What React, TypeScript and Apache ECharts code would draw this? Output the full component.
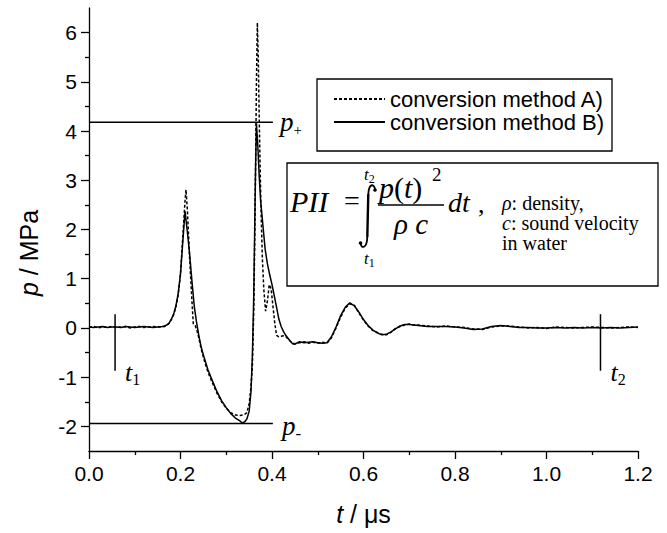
import React, { useEffect, useRef } from "react";
import * as echarts from "echarts";

// ---- data ----
const T_A = [0, 0.01, 0.02, 0.03, 0.04, 0.05, 0.06, 0.07, 0.08, 0.09, 0.1, 0.11, 0.12, 0.13, 0.14, 0.15, 0.16, 0.165,
  0.17, 0.175, 0.18, 0.185, 0.19, 0.195, 0.2, 0.205, 0.21, 0.212, 0.215, 0.22, 0.225, 0.228, 0.232, 0.236, 0.24, 0.245, 0.25,
  0.26, 0.27, 0.28, 0.29, 0.3, 0.31, 0.32, 0.33, 0.34, 0.345, 0.35, 0.354, 0.357, 0.36, 0.362, 0.364, 0.366, 0.368, 0.37,
  0.372, 0.374, 0.376, 0.379, 0.382, 0.386, 0.39, 0.394, 0.398, 0.402, 0.406, 0.41, 0.415, 0.42, 0.425, 0.43, 0.435, 0.44,
  0.445, 0.45, 0.46, 0.47, 0.48, 0.49, 0.5, 0.51, 0.52, 0.53, 0.54, 0.55, 0.56, 0.57, 0.58, 0.59, 0.6, 0.61, 0.62, 0.63,
  0.64, 0.65, 0.66, 0.67, 0.68, 0.69, 0.7, 0.71, 0.72, 0.74, 0.76, 0.78, 0.8, 0.82, 0.84, 0.86, 0.88, 0.9, 0.92, 0.94,
  0.96, 0.98, 1.0, 1.02, 1.04, 1.06, 1.08, 1.1, 1.12, 1.14, 1.16, 1.18, 1.2];
const P_A = [0.01, 0.03, 0.0, 0.02, 0.01, 0.03, 0.01, 0.02, 0.03, 0.0, 0.02, 0.03, 0.01, 0.02, 0.03, 0.02, 0.02, 0.03,
  0.05, 0.09, 0.17, 0.27, 0.42, 0.68, 1.1, 1.85, 2.6, 2.81, 2.4, 1.4, 0.55, 0.08, 0.05, -0.05, -0.2, -0.42, -0.6,
  -0.9, -1.12, -1.33, -1.5, -1.63, -1.72, -1.77, -1.78, -1.76, -1.72, -1.55, -1.2, -0.8, 0.3, 1.6, 3.2, 5.0, 6.2, 5.5,
  4.3, 3.3, 2.4, 1.4, 0.8, 0.34, 0.55, 0.88, 0.8, 0.45, 0.1, -0.15, -0.18, -0.17, -0.16, -0.18, -0.22, -0.27,
  -0.31, -0.32, -0.3, -0.28, -0.31, -0.29, -0.31, -0.29, -0.31, -0.2, 0.0, 0.22, 0.4, 0.49, 0.46, 0.3, 0.16, 0.04, -0.05, -0.09,
  -0.13, -0.14, -0.09, -0.01, 0.03, 0.06, 0.08, 0.06, 0.06, 0.04, 0.02, 0.04, 0.02, 0.01, -0.02, -0.03, 0.02, 0.04, 0.04, 0.02,
  0.0, 0.01, -0.01, 0.02, 0.01, 0.0, 0.01, 0.02, 0.01, 0.0, 0.01, 0.02, 0.01];

const T_B = [0, 0.01, 0.02, 0.03, 0.04, 0.05, 0.06, 0.07, 0.08, 0.09, 0.1, 0.11, 0.12, 0.13, 0.14, 0.15, 0.16, 0.165,
  0.17, 0.175, 0.18, 0.185, 0.19, 0.195, 0.2, 0.205, 0.21, 0.215, 0.22, 0.225, 0.23, 0.235, 0.24, 0.245, 0.25,
  0.26, 0.27, 0.28, 0.29, 0.3, 0.31, 0.32, 0.33, 0.335, 0.34, 0.345, 0.35, 0.354, 0.357, 0.36, 0.362, 0.364, 0.366,
  0.369, 0.372, 0.375, 0.378, 0.381, 0.385, 0.39, 0.395, 0.4, 0.405, 0.41, 0.415, 0.42, 0.425, 0.43, 0.435, 0.44, 0.445, 0.45,
  0.46, 0.47, 0.48, 0.49, 0.5, 0.51, 0.52, 0.53, 0.54, 0.55, 0.56, 0.57, 0.58, 0.59, 0.6, 0.61, 0.62, 0.63,
  0.64, 0.65, 0.66, 0.67, 0.68, 0.69, 0.7, 0.71, 0.72, 0.74, 0.76, 0.78, 0.8, 0.82, 0.84, 0.86, 0.88, 0.9, 0.92, 0.94,
  0.96, 0.98, 1.0, 1.02, 1.04, 1.06, 1.08, 1.1, 1.12, 1.14, 1.16, 1.18, 1.2];
const P_B = [0.02, 0.01, 0.02, 0.03, 0.01, 0.02, 0.02, 0.01, 0.03, 0.02, 0.01, 0.02, 0.03, 0.02, 0.01, 0.02, 0.03, 0.04,
  0.06, 0.1, 0.18, 0.28, 0.45, 0.7, 1.1, 1.75, 2.37, 1.95, 1.5, 0.95, 0.45, 0.12, -0.15, -0.38, -0.55,
  -0.85, -1.08, -1.3, -1.48, -1.62, -1.74, -1.83, -1.89, -1.93, -1.91, -1.85, -1.7, -1.3, -0.6, 0.6, 1.9, 3.2, 4.16,
  3.7, 3.1, 2.6, 2.3, 2.0, 1.6, 1.3, 1.08, 0.88, 0.65, 0.42, 0.18, 0.03, -0.07, -0.15, -0.21, -0.27, -0.32, -0.33,
  -0.28, -0.3, -0.29, -0.28, -0.3, -0.31, -0.3, -0.18, 0.02, 0.25, 0.42, 0.51, 0.45, 0.32, 0.17, 0.05, -0.04, -0.1,
  -0.14, -0.13, -0.08, -0.02, 0.04, 0.07, 0.07, 0.06, 0.05, 0.03, 0.03, 0.03, 0.02, 0.0, -0.03, -0.02, 0.03, 0.05, 0.03, 0.01,
  0.01, 0.0, 0.0, 0.01, 0.0, 0.01, 0.0, 0.01, 0.0, 0.01, 0.0, 0.01, 0.02];

const LEGEND_NAMES = ["conversion method A)", "conversion method B)"];
const X_TICKS = [0, 0.2, 0.4, 0.6, 0.8, 1.0, 1.2];
const Y_TICKS = [-2, -1, 0, 1, 2, 3, 4, 5, 6];
const P_PLUS = 4.18;
const P_MINUS = -1.94;
const LEVEL_END = 0.402;
const T1 = 0.057;
const T2 = 1.118;
const MARK_TOP = 0.28;
const MARK_BOTTOM = -0.87;

const SANS = "'Liberation Sans', Arial, Helvetica, sans-serif";
const SERIF = "'Liberation Serif', 'Times New Roman', Times, serif";

const zip = (t: number[], p: number[]) =>
  t.map((x, i) => [x, p[i]]).filter((d) => d[1] !== undefined);

const black = "#000";

const subRich = (main: number, sub: number) => ({
  v: { fontFamily: SERIF, fontStyle: "italic", fontSize: main, lineHeight: main + 4, color: black },
  s: { fontFamily: SERIF, fontSize: sub, lineHeight: sub, color: black, verticalAlign: "bottom" },
});

const noteRich = { g: { fontFamily: SERIF, fontStyle: "italic", fontSize: 20, lineHeight: 18, color: black } };

function buildOption(): any {
  const axisLineStyle = { color: black, width: 1.3 };
  return {
    animation: false,
    backgroundColor: "#fff",
    grid: { left: 89, right: 29, top: 8, bottom: 82 },
    legend: {
      data: LEGEND_NAMES,
      orient: "vertical",
      left: 317,
      top: 79,
      itemWidth: 51,
      itemHeight: 14,
      itemGap: 1,
      padding: [9, 8, 18, 16],
      borderColor: black,
      borderWidth: 1.3,
      backgroundColor: "#fff",
      selectedMode: false,
      itemStyle: { opacity: 0 },
      textStyle: { fontFamily: SANS, fontSize: 22, lineHeight: 21, color: black },
    },
    xAxis: {
      type: "value",
      min: X_TICKS[0],
      max: X_TICKS[X_TICKS.length - 1],
      interval: 0.2,
      axisLine: { show: true, onZero: false, lineStyle: axisLineStyle },
      axisTick: { show: true, length: 8, lineStyle: axisLineStyle },
      minorTick: { show: true, splitNumber: 2, length: 4, lineStyle: axisLineStyle },
      axisLabel: {
        margin: 12,
        fontSize: 21,
        fontFamily: SANS,
        color: black,
        formatter: (v: number) => v.toFixed(1),
      },
      splitLine: { show: false },
      name: "{i|t} / μs",
      nameLocation: "middle",
      nameGap: 50,
      nameTextStyle: {
        fontFamily: SANS,
        fontSize: 25,
        color: black,
        rich: { i: { fontFamily: SANS, fontStyle: "italic", fontSize: 25, color: black } },
      },
    },
    yAxis: {
      type: "value",
      min: -2.5,
      max: 6.5,
      splitNumber: 9,
      axisLine: { show: true, onZero: false, lineStyle: axisLineStyle },
      axisTick: { show: true, length: 8, customValues: Y_TICKS, lineStyle: axisLineStyle },
      minorTick: { show: true, splitNumber: 2, length: 4, lineStyle: axisLineStyle },
      axisLabel: {
        customValues: Y_TICKS,
        margin: 12,
        fontSize: 21,
        fontFamily: SANS,
        color: black,
        formatter: (v: number) => String(Math.round(v)),
      },
      splitLine: { show: false },
    },
    series: [
      {
        name: LEGEND_NAMES[0],
        type: "line",
        data: zip(T_A, P_A),
        symbol: "none",
        lineStyle: { color: black, width: 1.5, type: [3, 2] },
        itemStyle: { color: black },
        z: 3,
      },
      {
        name: LEGEND_NAMES[1],
        type: "line",
        data: zip(T_B, P_B),
        symbol: "none",
        lineStyle: { color: black, width: 1.5 },
        itemStyle: { color: black },
        z: 4,
      },
      {
        name: "p+",
        type: "line",
        data: [[0, P_PLUS], [LEVEL_END, P_PLUS]],
        symbol: "none",
        silent: true,
        lineStyle: { color: black, width: 1.5 },
        endLabel: { show: true, distance: 7, formatter: "{v|p}{s|+}", rich: subRich(27, 15) },
      },
      {
        name: "p-",
        type: "line",
        data: [[0, P_MINUS], [LEVEL_END, P_MINUS]],
        symbol: "none",
        silent: true,
        lineStyle: { color: black, width: 1.5 },
        endLabel: { show: true, distance: 9, offset: [0, 3], formatter: "{v|p}{s|-}", rich: subRich(27, 17) },
      },
      {
        name: "t1",
        type: "line",
        data: [[T1, MARK_TOP], [T1, MARK_BOTTOM]],
        symbol: "none",
        silent: true,
        lineStyle: { color: black, width: 1.5 },
        endLabel: { show: true, distance: 10, offset: [0, 2], formatter: "{v|t}{s|1}", rich: subRich(26, 16) },
      },
      {
        name: "t2",
        type: "line",
        data: [[T2, MARK_TOP], [T2, MARK_BOTTOM]],
        symbol: "none",
        silent: true,
        lineStyle: { color: black, width: 1.5 },
        endLabel: { show: true, distance: 10, offset: [0, 2], formatter: "{v|t}{s|2}", rich: subRich(26, 16) },
      },
    ],
    graphic: [
      // y axis name
      {
        type: "text",
        x: 29,
        y: 253,
        rotation: Math.PI / 2,
        style: {
          text: "{i|p} / MPa",
          fontFamily: SANS,
          fontSize: 25,
          fill: black,
          align: "center",
          verticalAlign: "middle",
          rich: { i: { fontFamily: SANS, fontStyle: "italic", fontSize: 25, color: black } },
        },
      },
      // formula box
      {
        type: "rect",
        z: 90,
        shape: { x: 287, y: 163, width: 371, height: 123 },
        style: { fill: "#fff", stroke: black, lineWidth: 1.3 },
      },
      {
        type: "text", z: 100, x: 290, y: 201,
        style: { text: "PII", fontFamily: SERIF, fontStyle: "italic", fontSize: 30, fill: black, align: "left", verticalAlign: "middle" },
      },
      {
        type: "text", z: 100, x: 344, y: 200,
        style: { text: "=", fontFamily: SERIF, fontSize: 28, fill: black, align: "left", verticalAlign: "middle" },
      },
      // integral sign
      {
        type: "bezierCurve", z: 100,
        shape: { x1: 375, y1: 190, cpx1: 375, cpy1: 184, cpx2: 369, cpy2: 182, x2: 368.3, y2: 194 },
        style: { stroke: black, lineWidth: 1.8, fill: null },
      },
      { type: "line", z: 100, shape: { x1: 368.3, y1: 194, x2: 367.3, y2: 237 }, style: { stroke: black, lineWidth: 2.4 } },
      {
        type: "bezierCurve", z: 100,
        shape: { x1: 367.3, y1: 237, cpx1: 367, cpy1: 249, cpx2: 361, cpy2: 249, x2: 360.5, y2: 243 },
        style: { stroke: black, lineWidth: 1.8, fill: null },
      },
      { type: "circle", z: 100, shape: { cx: 375, cy: 190, r: 1.8 }, style: { fill: black } },
      { type: "circle", z: 100, shape: { cx: 360.5, cy: 243, r: 1.8 }, style: { fill: black } },
      {
        type: "text", z: 100, x: 364, y: 174,
        style: { text: "{v|t}{s|2}", fill: black, align: "left", verticalAlign: "middle", rich: subRich(17, 12) },
      },
      {
        type: "text", z: 100, x: 364, y: 258,
        style: { text: "{v|t}{s|1}", fill: black, align: "left", verticalAlign: "middle", rich: subRich(17, 12) },
      },
      {
        type: "text", z: 100, x: 379, y: 187,
        style: {
          text: "{v|p}{u|(}{v|t}{u|)}", fill: black, align: "left", verticalAlign: "middle",
          rich: {
            v: { fontFamily: SERIF, fontStyle: "italic", fontSize: 30, color: black },
            u: { fontFamily: SERIF, fontSize: 30, color: black },
          },
        },
      },
      {
        type: "text", z: 100, x: 432, y: 174,
        style: { text: "2", fontFamily: SERIF, fontSize: 19, fill: black, align: "left", verticalAlign: "middle" },
      },
      { type: "line", z: 100, shape: { x1: 378, y1: 205, x2: 444, y2: 205 }, style: { stroke: black, lineWidth: 1.3 } },
      {
        type: "text", z: 100, x: 411, y: 224,
        style: { text: "ρ c", fontFamily: SERIF, fontStyle: "italic", fontSize: 29, fill: black, align: "center", verticalAlign: "middle" },
      },
      {
        type: "text", z: 100, x: 448, y: 202,
        style: { text: "dt", fontFamily: SERIF, fontStyle: "italic", fontSize: 28, fill: black, align: "left", verticalAlign: "middle" },
      },
      {
        type: "text", z: 100, x: 478, y: 204,
        style: { text: ",", fontFamily: SERIF, fontSize: 26, fill: black, align: "left", verticalAlign: "middle" },
      },
      {
        type: "text", z: 100, x: 502, y: 203,
        style: {
          text: "{g|ρ}: density,", fontFamily: SERIF, fontSize: 20, lineHeight: 18, fill: black, align: "left", verticalAlign: "middle",
          rich: noteRich,
        },
      },
      {
        type: "text", z: 100, x: 502, y: 223,
        style: {
          text: "{g|c}: sound velocity", fontFamily: SERIF, fontSize: 20, lineHeight: 18, fill: black, align: "left", verticalAlign: "middle",
          rich: noteRich,
        },
      },
      {
        type: "text", z: 100, x: 502, y: 243,
        style: { text: "in water", fontFamily: SERIF, fontSize: 20, lineHeight: 18, fill: black, align: "left", verticalAlign: "middle" },
      },
    ],
  };
}

export default function App() {
  const ref = useRef<HTMLDivElement>(null);
  useEffect(() => {
    if (!ref.current) return;
    const chart = echarts.init(ref.current, null, { renderer: "svg" });
    chart.setOption(buildOption());
    return () => chart.dispose();
  }, []);
  return (
    <div
      ref={ref}
      style={{ position: "fixed", left: 0, top: 0, width: 667, height: 533, background: "#fff" }}
    />
  );
}
